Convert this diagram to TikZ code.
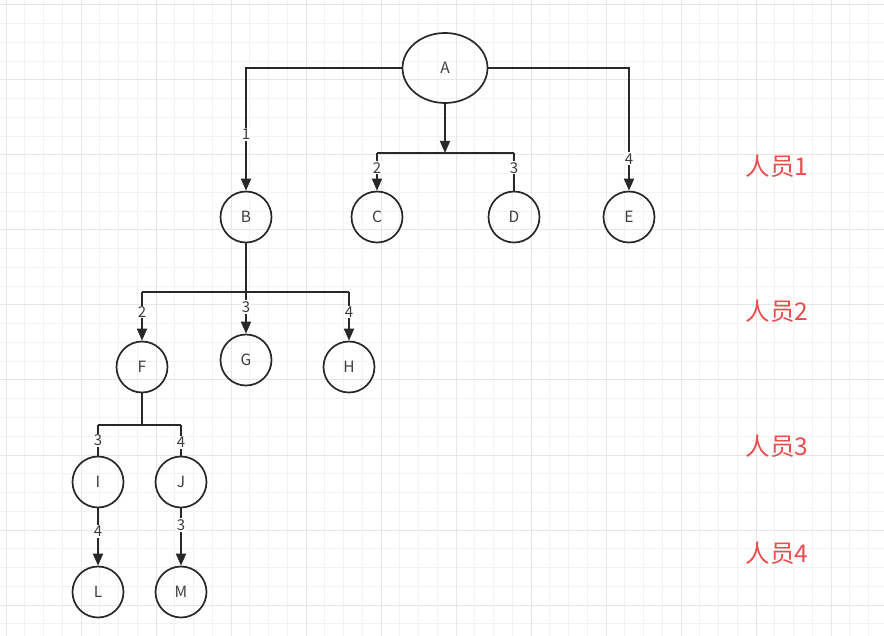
\documentclass[tikz,border=0pt]{standalone}
\usepackage{fontspec}
\setmainfont{Noto Sans CJK SC}
\usepackage{tikz}
\usetikzlibrary{arrows.meta,positioning,shapes.geometric}
\definecolor{gridminor}{RGB}{242,242,242}
\definecolor{gridmajor}{RGB}{230,230,230}
\definecolor{linegray}{RGB}{40,40,40}
\definecolor{tagred}{RGB}{232,78,78}
\tikzset{
  person/.style={circle,draw=linegray,line width=1.7pt,minimum size=51pt,inner sep=0pt,
    font=\fontsize{15.5}{18}\selectfont,text=linegray!90},
  link/.style={draw=linegray,line width=1.7pt},
  arrowlink/.style={link,-{Triangle[length=12pt,width=10pt]}},
  num/.style={fill=white,inner sep=1pt,font=\fontsize{15}{17}\selectfont,text=linegray!90},
  level/.style={anchor=west,text=tagred,font=\fontsize{24.5}{28}\selectfont}
}

\begin{document}
\begin{tikzpicture}[x=1pt,y=-1pt]
  \useasboundingbox (0,0) rectangle (884,636);
  \fill[white] (0,0) rectangle (884,636);
  % grid
  \begin{scope}
    \clip (0,0) rectangle (884,636);
    \foreach \i in {0,...,47} \draw[gridminor,line width=1pt] ({6+18.75*\i},0) -- ++(0,636);
    \foreach \i in {0,...,33} \draw[gridminor,line width=1pt] (0,{5+18.75*\i}) -- ++(884,0);
    \foreach \i in {0,...,11} \draw[gridmajor,line width=1pt] ({6+75*\i},0) -- ++(0,636);
    \foreach \i in {0,...,8} \draw[gridmajor,line width=1pt] (0,{5+75*\i}) -- ++(884,0);
  \end{scope}
  % people
  \node[person,ellipse,minimum width=85pt,minimum height=70pt] (A) at (445,68) {A};
  \node[person] (B) at (246,217) {B};
  \node[person] (C) at (377,217) {C};
  \node[person] (D) at (514,217) {D};
  \node[person] (E) at (629,217) {E};
  \node[person] (F) at (142,367) {F};
  \node[person] (G) at (246,360) {G};
  \node[person] (H) at (349,367) {H};
  \node[person] (I) at (98,482) {I};
  \node[person] (J) at (181,482) {J};
  \node[person] (L) at (98,592) {L};
  \node[person] (M) at (181,592) {M};
  % junctions
  \coordinate (ja) at (445,153);
  \coordinate (jb) at (246,292);
  \coordinate (jf) at (142,425);
  % level 1
  \draw[arrowlink] (A.west) -| node[num,pos=0.77] {1} (B.north);
  \draw[arrowlink] (A.east) -| node[num,pos=0.87] {4} (E.north);
  \draw[arrowlink] (A.south) -- (ja);
  \draw[link] (C.north |- ja) -- (D.north |- ja);
  \draw[arrowlink] (C.north |- ja) -- node[num,pos=0.39] {2} (C.north);
  \draw[link] (D.north |- ja) -- node[num,pos=0.39] {3} (D.north);
  % level 2
  \draw[link,line width=2.3pt] (B.south) -- (jb);
  \draw[link] (F.north |- jb) -- (H.north |- jb);
  \draw[arrowlink] (F.north |- jb) -- node[num,pos=0.41] {2} (F.north);
  \draw[arrowlink] (jb) -- node[num,pos=0.36] {3} (G.north);
  \draw[arrowlink] (H.north |- jb) -- node[num,pos=0.41] {4} (H.north);
  % level 3
  \draw[link] (F.south) -- (jf);
  \draw[link] (I.north |- jf) -- (J.north |- jf);
  \draw[link] (I.north |- jf) -- node[num,pos=0.5] {3} (I.north);
  \draw[link] (J.north |- jf) -- node[num,pos=0.56] {4} (J.north);
  % level 4
  \draw[arrowlink] (I.south) -- node[num,pos=0.4] {4} (L.north);
  \draw[arrowlink] (J.south) -- node[num,pos=0.29] {3} (M.north);
  % labels
  \node[level] (p1) at (742,166) {人员1};
  \node[level] (p2) at (742,311) {人员2};
  \node[level] (p3) at (742,446) {人员3};
  \node[level] (p4) at (742,553) {人员4};
\end{tikzpicture}
\end{document}
